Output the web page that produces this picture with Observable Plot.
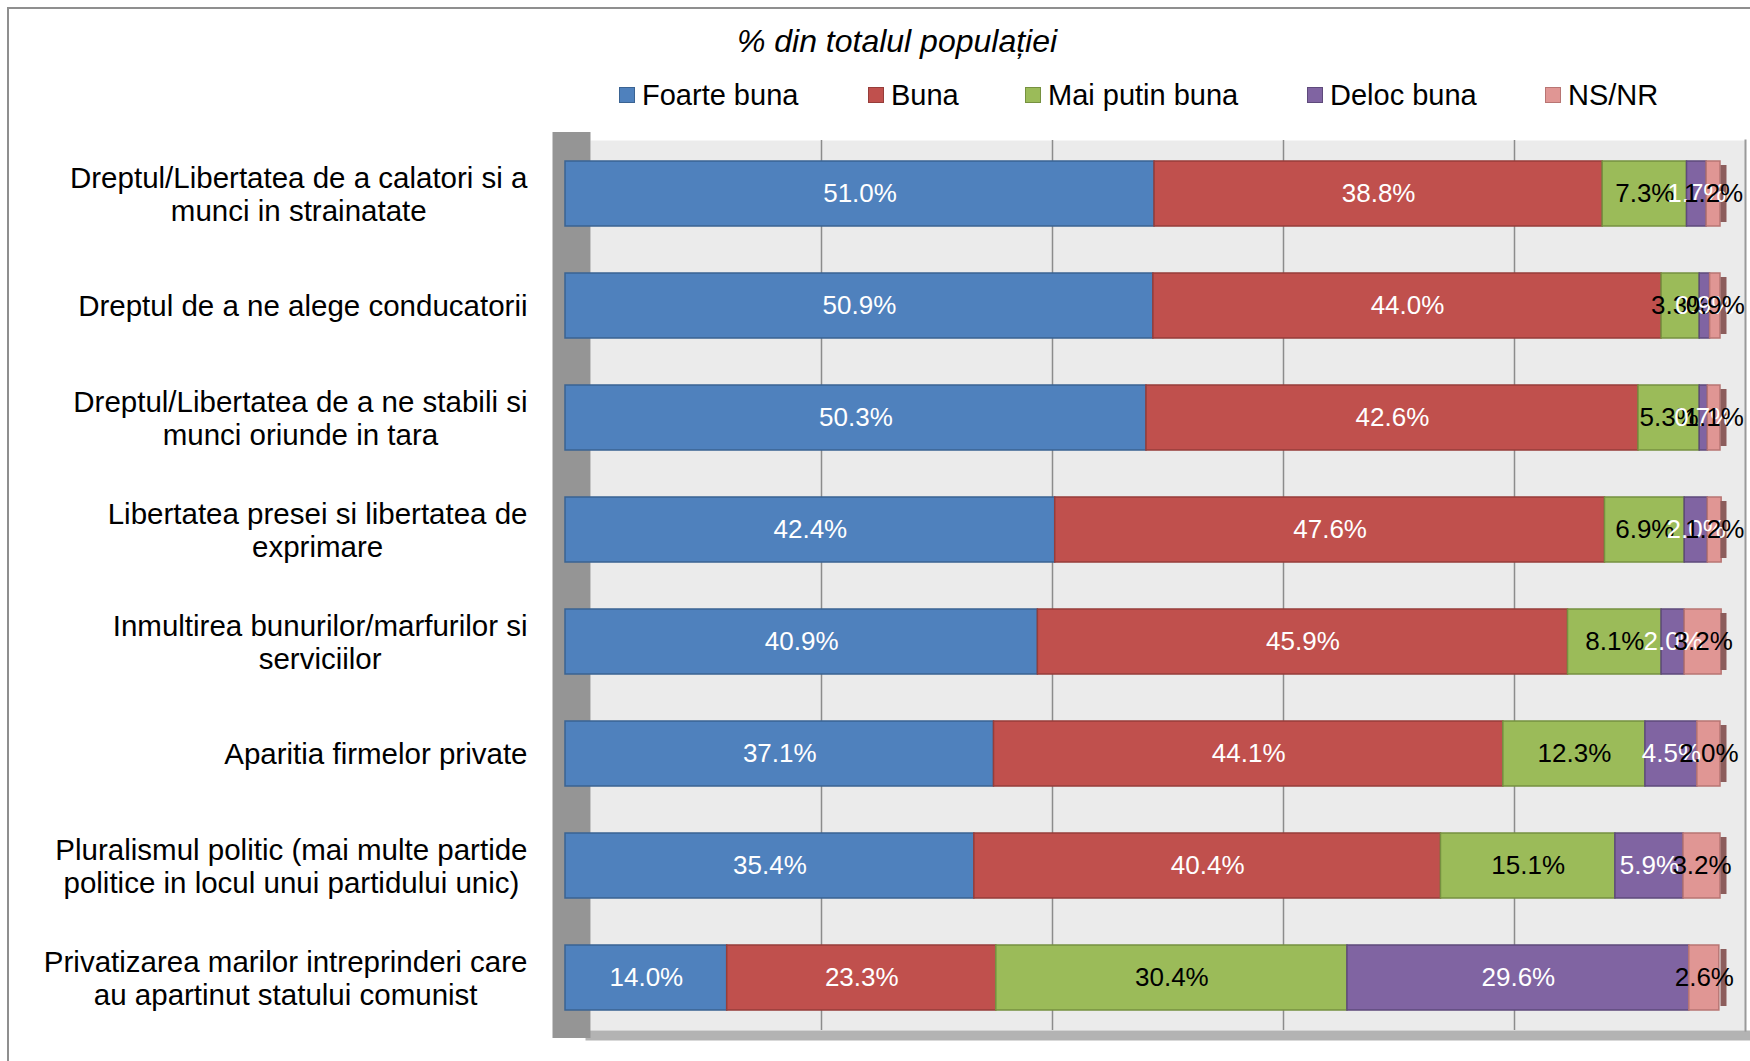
<!DOCTYPE html>
<html>
<head>
<meta charset="utf-8">
<script src="https://cdn.jsdelivr.net/npm/d3@7"></script>
<script src="https://cdn.jsdelivr.net/npm/@observablehq/plot@0.6"></script>
<style>
  html, body { margin: 0; padding: 0; background: #fff; overflow: hidden; }
  body { font-family: "Liberation Sans", Arial, sans-serif; }
  #wrap { position: relative; width: 1750px; height: 1061px; }
  #border { position: absolute; left: 7px; top: 7px; width: 2000px; height: 2000px;
            border-left: 2px solid #8f8f8f; border-top: 2px solid #8f8f8f; }
  #title { position: absolute; left: 0; width: 1794px; top: 21px; text-align: center;
           font-style: italic; font-size: 32px; line-height: 40px; color: #000; }
  .leg { position: absolute; top: 78px; height: 34px; line-height: 34px; font-size: 29px; color: #000; white-space: nowrap; }
  .sw { position: absolute; top: 9px; width: 14px; height: 14px; border: 1px solid; }
  .leg span.t { position: absolute; top: 0; }
  #chart { position: absolute; left: 0; top: 120px; }
</style>
</head>
<body>
<div id="wrap">
  <div id="border"></div>
  <div id="title">% din totalul populației</div>
  <div id="legend"></div>
  <div id="chart"></div>
</div>
<script>
// ---- data ----
const categories = [
  "Dreptul/Libertatea de a calatori si a\nmunci in strainatate",
  "Dreptul de a ne alege conducatorii",
  "Dreptul/Libertatea de a ne stabili si\nmunci oriunde in tara",
  "Libertatea presei si libertatea de\nexprimare",
  "Inmultirea bunurilor/marfurilor si\nserviciilor",
  "Aparitia firmelor private",
  "Pluralismul politic (mai multe partide\npolitice in locul unui partidului unic)",
  "Privatizarea marilor intreprinderi care\nau apartinut statului comunist"
];
const seriesNames = ["Foarte buna", "Buna", "Mai putin buna", "Deloc buna", "NS/NR"];
const foarteBuna   = [51.0, 50.9, 50.3, 42.4, 40.9, 37.1, 35.4, 14.0];
const buna         = [38.8, 44.0, 42.6, 47.6, 45.9, 44.1, 40.4, 23.3];
const maiPutinBuna = [7.3, 3.3, 5.3, 6.9, 8.1, 12.3, 15.1, 30.4];
const delocBuna    = [1.7, 0.9, 0.7, 2.0, 2.0, 4.5, 5.9, 29.6];
const nsnr         = [1.2, 0.9, 1.1, 1.2, 3.2, 2.0, 3.2, 2.6];
const gridTicks = [20, 40, 60, 80];

// ---- styles ----
const fills   = {"Foarte buna": "#4F81BD", "Buna": "#C0504D", "Mai putin buna": "#9BBB59", "Deloc buna": "#8064A2", "NS/NR": "#E09694"};
const strokes = {"Foarte buna": "#3A6392", "Buna": "#963D3A", "Mai putin buna": "#769140", "Deloc buna": "#5E4A7B", "NS/NR": "#B87573"};
const labelInk = {"Foarte buna": "#fff", "Buna": "#fff", "Mai putin buna": "#000", "Deloc buna": "#fff", "NS/NR": "#000"};

const seriesValues = [foarteBuna, buna, maiPutinBuna, delocBuna, nsnr];
const rows = [];
categories.forEach((c, i) => {
  seriesNames.forEach((s, j) => rows.push({cat: c, series: s, value: seriesValues[j][i]}));
});

// ---- legend (HTML) ----
const legendX = [619, 868, 1025, 1307, 1545];
const legend = document.getElementById("legend");
seriesNames.forEach((s, j) => {
  const d = document.createElement("div");
  d.className = "leg";
  d.style.left = legendX[j] + "px";
  d.innerHTML = `<span class="sw" style="left:0;background:${fills[s]};border-color:${strokes[s]}"></span><span class="t" style="left:23px">${s}</span>`;
  legend.appendChild(d);
});

// ---- measure category label widths for centered multi-line blocks ----
const labelFont = 29.5;
const ctx = document.createElement("canvas").getContext("2d");
ctx.font = `${labelFont}px "Liberation Sans", Arial, sans-serif`;
const blockWidth = c => Math.max(...c.split("\n").map(l => ctx.measureText(l).width));

const shift = -25; // front face of bars sits left of the back wall
const labelMarks = categories.map(c =>
  Plot.text([c], {
    x: () => 0, y: d => d, text: d => d,
    textAnchor: "middle", lineAnchor: "middle", lineHeight: 1.1,
    dx: -63 - blockWidth(c) / 2, fontSize: labelFont, fill: "#000"
  })
);

const chart = Plot.plot({
  width: 1750,
  height: 941,
  marginLeft: 590,
  marginRight: 5,
  marginTop: 20,
  marginBottom: 31,
  style: {fontFamily: '"Liberation Sans", Arial, sans-serif', background: "transparent", overflow: "visible"},
  x: {domain: [0, 100], axis: null},
  y: {domain: categories, axis: null, paddingInner: 0.42, paddingOuter: 0.17},
  color: {type: "identity"},
  marks: [
    Plot.frame({fill: "#EBEBEB", stroke: null}),
    Plot.frame({anchor: "bottom", stroke: "#b3b3b3", strokeWidth: 10, dy: 5}),
    Plot.frame({anchor: "right", stroke: "#9a9a9a", strokeWidth: 2}),
    Plot.ruleX(gridTicks, {stroke: "#8c8c8c", strokeWidth: 1.5}),
    Plot.ruleX([0], {stroke: "#959595", strokeWidth: 38, dx: -19, insetTop: -8, insetBottom: -8}),
    Plot.barX(rows, Plot.stackX({
      x: "value", y: "cat", z: "series",
      fill: d => fills[d.series], stroke: d => strokes[d.series], strokeWidth: 1.5,
      dx: shift
    })),
    Plot.tickX(categories, {x: () => 100, y: d => d, stroke: "#8c5d5c", strokeWidth: 6, dx: shift + 3, insetTop: 4, insetBottom: 4}),
    Plot.text(rows, Plot.stackX({
      x: "value", y: "cat", z: "series",
      text: d => d.value.toFixed(1) + "%",
      fill: d => labelInk[d.series],
      fontSize: 26, dx: shift
    })),
    ...labelMarks
  ]
});
document.getElementById("chart").appendChild(chart);
</script>
</body>
</html>
